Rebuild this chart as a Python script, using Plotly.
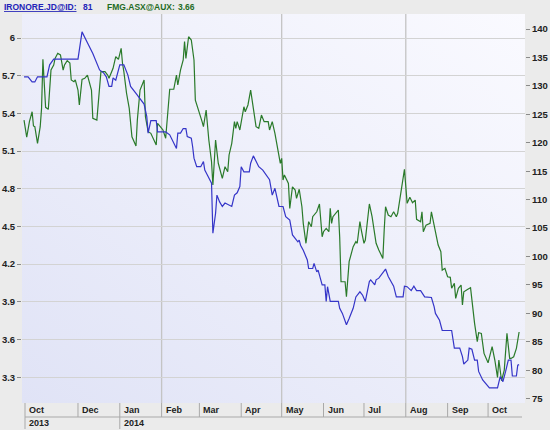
import base64
import plotly.graph_objects as go

# ---------------- data ----------------
iron_dates = [
    "2013-10-22", "2013-10-25", "2013-10-28", "2013-10-30", "2013-11-01", "2013-11-08", "2013-11-10",
    "2013-11-13", "2013-11-16", "2013-12-01", "2013-12-04", "2013-12-06", "2013-12-08", "2013-12-12",
    "2013-12-15", "2013-12-17", "2013-12-20", "2013-12-22", "2013-12-24", "2013-12-26", "2013-12-27",
    "2013-12-29", "2014-01-01", "2014-01-04", "2014-01-07", "2014-01-09", "2014-01-13", "2014-01-15",
    "2014-01-19", "2014-01-21", "2014-01-22", "2014-01-24", "2014-01-28", "2014-01-29", "2014-02-04",
    "2014-02-07", "2014-02-09", "2014-02-12", "2014-02-13", "2014-02-15", "2014-02-17", "2014-02-19",
    "2014-02-20", "2014-02-23", "2014-02-24", "2014-02-25", "2014-02-27", "2014-03-02", "2014-03-04",
    "2014-03-05", "2014-03-07", "2014-03-10", "2014-03-11", "2014-03-13", "2014-03-14", "2014-03-16",
    "2014-03-18", "2014-03-20", "2014-03-25", "2014-03-26", "2014-03-27", "2014-03-29", "2014-03-31",
    "2014-04-01", "2014-04-03", "2014-04-07", "2014-04-08", "2014-04-10", "2014-04-12", "2014-04-14",
    "2014-04-17", "2014-04-19", "2014-04-22", "2014-04-24", "2014-04-26", "2014-04-29", "2014-05-02",
    "2014-05-04", "2014-05-07", "2014-05-09", "2014-05-13", "2014-05-14", "2014-05-15", "2014-05-17",
    "2014-05-20", "2014-05-21", "2014-05-24", "2014-05-25", "2014-05-27", "2014-05-28", "2014-05-31",
    "2014-06-02", "2014-06-03", "2014-06-04", "2014-06-06", "2014-06-12", "2014-06-13", "2014-06-15",
    "2014-06-18", "2014-06-20", "2014-06-23", "2014-06-25", "2014-06-28", "2014-06-30", "2014-07-02",
    "2014-07-05", "2014-07-06", "2014-07-09", "2014-07-10", "2014-07-12", "2014-07-17", "2014-07-19",
    "2014-07-23", "2014-07-25", "2014-07-30", "2014-07-31", "2014-08-02", "2014-08-05", "2014-08-07",
    "2014-08-09", "2014-08-12", "2014-08-15", "2014-08-20", "2014-08-22", "2014-08-23", "2014-08-26",
    "2014-08-28", "2014-09-04", "2014-09-06", "2014-09-10", "2014-09-12", "2014-09-13", "2014-09-16",
    "2014-09-17", "2014-09-19", "2014-09-21", "2014-09-23", "2014-09-24", "2014-09-27", "2014-10-02",
    "2014-10-08", "2014-10-10", "2014-10-12", "2014-10-14", "2014-10-16", "2014-10-18", "2014-10-19",
    "2014-10-22", "2014-10-23", "2014-10-24",
]
iron_values = [
    131.6, 131.6, 130.7, 130.7, 131.6, 131.6, 133.7,
    134.7, 134.7, 134.7, 139.5, 138.4, 137.6, 135.7,
    134.0, 132.8, 132.3, 131.6, 129.9, 129.9, 131.4,
    131.0, 133.7, 133.7, 131.9, 129.9, 128.7, 128.1,
    126.8, 124.6, 121.7, 123.9, 123.9, 121.9, 121.9,
    121.4, 120.5, 119.0, 121.7, 121.7, 122.5, 122.5,
    121.1, 120.8, 119.3, 117.3, 115.8, 115.8, 116.7,
    115.2, 114.3, 112.9, 104.1, 107.6, 110.8, 109.6,
    108.8, 109.4, 108.8, 109.9, 110.8, 111.2, 112.3,
    115.8, 114.9, 114.9, 116.4, 117.7, 116.7, 115.8,
    115.2, 114.6, 113.5, 110.8, 112.0, 108.8, 108.8,
    107.0, 106.4, 103.8, 102.6, 102.9, 102.0, 101.1,
    99.4, 97.9, 97.9, 98.8, 97.3, 97.6, 95.0,
    95.0, 92.1, 94.7, 92.1, 92.1, 90.9, 90.0,
    88.0, 89.1, 90.9, 92.9, 93.8, 93.2, 92.1,
    95.6, 95.9, 95.0, 95.9, 96.2, 97.8, 96.5,
    94.8, 92.9, 92.9, 94.8, 94.7, 94.0, 94.8,
    94.0, 94.0, 92.9, 92.8, 91.2, 90.0, 88.8,
    87.0, 87.0, 83.9, 83.9, 82.4, 81.1, 81.8,
    83.9, 83.7, 81.8, 81.8, 79.8, 78.3, 76.9,
    76.9, 78.9, 78.0, 79.8, 81.8, 81.8, 79.0,
    79.0, 80.9, 81.0,
]

fmg_dates = [
    "2013-10-22", "2013-10-24", "2013-10-26", "2013-10-28", "2013-10-29", "2013-10-30", "2013-11-01",
    "2013-11-03", "2013-11-04", "2013-11-05", "2013-11-07", "2013-11-09", "2013-11-11", "2013-11-13",
    "2013-11-14", "2013-11-16", "2013-11-18", "2013-11-20", "2013-11-21", "2013-11-23", "2013-11-25",
    "2013-11-26", "2013-11-28", "2013-11-29", "2013-12-01", "2013-12-02", "2013-12-04", "2013-12-06",
    "2013-12-08", "2013-12-11", "2013-12-12", "2013-12-15", "2013-12-18", "2013-12-21", "2013-12-23",
    "2013-12-24", "2013-12-27", "2013-12-29", "2013-12-31", "2014-01-02", "2014-01-03", "2014-01-04",
    "2014-01-06", "2014-01-08", "2014-01-10", "2014-01-13", "2014-01-14", "2014-01-16", "2014-01-19",
    "2014-01-20", "2014-01-22", "2014-01-24", "2014-01-28", "2014-01-29", "2014-01-31", "2014-02-02",
    "2014-02-04", "2014-02-05", "2014-02-07", "2014-02-10", "2014-02-12", "2014-02-13", "2014-02-15",
    "2014-02-17", "2014-02-18", "2014-02-19", "2014-02-21", "2014-02-23", "2014-02-25", "2014-02-26",
    "2014-03-01", "2014-03-03", "2014-03-04", "2014-03-06", "2014-03-08", "2014-03-10", "2014-03-11",
    "2014-03-13", "2014-03-15", "2014-03-18", "2014-03-20", "2014-03-22", "2014-03-23", "2014-03-25",
    "2014-03-27", "2014-03-28", "2014-03-29", "2014-03-31", "2014-04-03", "2014-04-04", "2014-04-06",
    "2014-04-08", "2014-04-10", "2014-04-12", "2014-04-14", "2014-04-16", "2014-04-18", "2014-04-21",
    "2014-04-22", "2014-04-24", "2014-04-26", "2014-04-28", "2014-04-30", "2014-05-01", "2014-05-02",
    "2014-05-03", "2014-05-06", "2014-05-07", "2014-05-09", "2014-05-11", "2014-05-12", "2014-05-14",
    "2014-05-16", "2014-05-17", "2014-05-19", "2014-05-21", "2014-05-23", "2014-05-24", "2014-05-27",
    "2014-05-29", "2014-05-31", "2014-06-01", "2014-06-03", "2014-06-05", "2014-06-06", "2014-06-07",
    "2014-06-08", "2014-06-12", "2014-06-13", "2014-06-14", "2014-06-17", "2014-06-18", "2014-06-20",
    "2014-06-23", "2014-06-25", "2014-06-26", "2014-06-28", "2014-06-29", "2014-07-01", "2014-07-02",
    "2014-07-05", "2014-07-07", "2014-07-10", "2014-07-12", "2014-07-15", "2014-07-16", "2014-07-17",
    "2014-07-19", "2014-07-21", "2014-07-23", "2014-07-25", "2014-07-26", "2014-07-27", "2014-07-29",
    "2014-07-31", "2014-08-02", "2014-08-04", "2014-08-06", "2014-08-08", "2014-08-09", "2014-08-12",
    "2014-08-13", "2014-08-14", "2014-08-16", "2014-08-19", "2014-08-20", "2014-08-22", "2014-08-23",
    "2014-08-25", "2014-08-27", "2014-08-28", "2014-08-30", "2014-09-01", "2014-09-03", "2014-09-04",
    "2014-09-06", "2014-09-07", "2014-09-09", "2014-09-11", "2014-09-12", "2014-09-13", "2014-09-16",
    "2014-09-18", "2014-09-21", "2014-09-23", "2014-09-24", "2014-09-26", "2014-09-28", "2014-10-01",
    "2014-10-04", "2014-10-06", "2014-10-08", "2014-10-09", "2014-10-11", "2014-10-13", "2014-10-15",
    "2014-10-17", "2014-10-18", "2014-10-20", "2014-10-22", "2014-10-24",
]
fmg_values = [
    5.347, 5.21, 5.334, 5.413, 5.30, 5.294, 5.162,
    5.294, 5.44, 5.83, 5.448, 5.432, 5.745, 5.785,
    5.838, 5.878, 5.865, 5.745, 5.785, 5.82, 5.80,
    5.666, 5.652, 5.666, 5.586, 5.467, 5.671, 5.679,
    5.705, 5.586, 5.361, 5.347, 5.732, 5.732, 5.705,
    5.679, 5.759, 5.851, 5.83, 5.918, 5.799, 5.732,
    5.56, 5.44, 5.214, 5.14, 5.347, 5.586, 5.666,
    5.374, 5.254, 5.241, 5.148, 5.321, 5.294, 5.268,
    5.202, 5.334, 5.592, 5.592, 5.705, 5.626, 5.745,
    5.825, 5.971, 5.838, 6.01, 5.984, 5.825, 5.506,
    5.413, 5.334, 5.294, 5.427, 5.188, 5.015, 4.83,
    5.188, 5.003, 4.883, 4.976, 4.936, 5.069, 5.162,
    5.334, 5.281, 5.334, 5.268, 5.453, 5.413, 5.467,
    5.586, 5.44, 5.294, 5.281, 5.387, 5.334, 5.334,
    5.268, 5.334, 5.241, 5.108, 5.003, 5.042, 4.87,
    4.91, 4.843, 4.644, 4.816, 4.79, 4.724, 4.796,
    4.657, 4.525, 4.366, 4.538, 4.498, 4.578, 4.617,
    4.679, 4.418, 4.458, 4.485, 4.458, 4.644, 4.525,
    4.578, 4.631, 4.418, 4.06, 4.06, 3.941, 4.22,
    4.339, 4.379, 4.366, 4.538, 4.472, 4.366, 4.392,
    4.679, 4.578, 4.366, 4.312, 4.246, 4.472, 4.657,
    4.591, 4.578, 4.617, 4.578, 4.605, 4.671, 4.816,
    4.955, 4.684, 4.732, 4.689, 4.71, 4.557, 4.538,
    4.617, 4.458, 4.511, 4.525, 4.617, 4.511, 4.432,
    4.352, 4.299, 4.153, 4.167, 4.1, 4.095, 4.008,
    4.047, 3.928, 4.008, 4.034, 3.875, 3.98, 4.0,
    4.012, 3.729, 3.583, 3.654, 3.649, 3.49, 3.415,
    3.543, 3.437, 3.299, 3.437, 3.272, 3.357, 3.649,
    3.45, 3.45, 3.463, 3.53, 3.66,
]

left_ticks = [3.3, 3.6, 3.9, 4.2, 4.5, 4.8, 5.1, 5.4, 5.7, 6.0]
left_tick_labels = ["3.3", "3.6", "3.9", "4.2", "4.5", "4.8", "5.1", "5.4", "5.7", "6"]
right_ticks = [75, 80, 85, 90, 95, 100, 105, 110, 115, 120, 125, 130, 135, 140]

x_start = "2013-10-20 12:00"
x_end = "2014-10-28 09:00"
first_month_label = "Oct"
month_starts = ["2013-12-01", "2014-01-01", "2014-02-01", "2014-03-01", "2014-04-01", "2014-05-01",
                "2014-06-01", "2014-07-01", "2014-08-01", "2014-09-01", "2014-10-01"]
month_labels = ["Dec", "Jan", "Feb", "Mar", "Apr", "May", "Jun", "Jul", "Aug", "Sep", "Oct"]
first_year_label = "2013"
year_starts = ["2014-01-01"]
year_labels = ["2014"]
vgrid_dates = ["2014-02-01", "2014-05-01", "2014-08-01"]

iron_name = "IRONORE.JD@ID:"
fmg_name = "FMG.ASX@AUX:"

# ---------------- styling ----------------
W, H = 550, 430
ML, MR, MT, MB = 22, 25, 14, 27
PW, PH = W - ML - MR, H - MT - MB

BLUE = "#3535c8"
GREEN = "#2a7a2a"
FONT = "Liberation Sans"
TXT = "#222222"
GRIDC = "#d3d3d3"
SEPC = "#a9a9a9"


def px_x(p):
    return (p - ML) / PW


def px_y(p):
    return 1 - (p - MT) / PH


svg = ('<svg xmlns="http://www.w3.org/2000/svg" width="200" height="200" preserveAspectRatio="none">'
       '<defs><linearGradient id="g" x1="0" y1="1" x2="1" y2="0">'
       '<stop offset="0" stop-color="#e0e3f6"/><stop offset="1" stop-color="#fafaff"/>'
       '</linearGradient></defs><rect width="200" height="200" fill="url(#g)"/></svg>')
bg_src = "data:image/svg+xml;base64," + base64.b64encode(svg.encode()).decode()

fig = go.Figure()
fig.add_trace(go.Scatter(x=fmg_dates, y=fmg_values, mode="lines", name=fmg_name,
                         line=dict(color=GREEN, width=1.2), yaxis="y"))
fig.add_trace(go.Scatter(x=iron_dates, y=iron_values, mode="lines", name=iron_name,
                         line=dict(color=BLUE, width=1.2), yaxis="y2"))

shapes = []
# vertical grid lines
for d in vgrid_dates:
    shapes.append(dict(type="line", xref="x", yref="paper", x0=d, x1=d, y0=0, y1=1,
                       line=dict(color="#c4c4c4", width=1.3), layer="below"))

# bottom month / year rows
row1_bot = px_y(417)
row2_bot = px_y(429)
shapes.append(dict(type="line", xref="paper", yref="paper", x0=px_x(25), x1=px_x(522),
                   y0=row1_bot, y1=row1_bot, line=dict(color=SEPC, width=1)))
shapes.append(dict(type="line", xref="paper", yref="paper", x0=px_x(25), x1=px_x(25),
                   y0=0, y1=row2_bot, line=dict(color=SEPC, width=1)))
for d in month_starts:
    shapes.append(dict(type="line", xref="x", yref="paper", x0=d, x1=d, y0=0, y1=row1_bot,
                       line=dict(color=SEPC, width=1)))
for d in year_starts:
    shapes.append(dict(type="line", xref="x", yref="paper", x0=d, x1=d, y0=row1_bot, y1=row2_bot,
                       line=dict(color=SEPC, width=1)))

annotations = []
lab_font = dict(family=FONT, size=9, color=TXT, weight="bold")
annotations.append(dict(text=first_month_label, xref="paper", yref="paper", x=px_x(27), y=px_y(410),
                        xanchor="left", yanchor="middle", showarrow=False, font=lab_font))
for d, lab in zip(month_starts, month_labels):
    annotations.append(dict(text=lab, xref="x", yref="paper", x=d, y=px_y(410), xshift=2,
                            xanchor="left", yanchor="middle", showarrow=False, font=lab_font))
annotations.append(dict(text=first_year_label, xref="paper", yref="paper", x=px_x(27), y=px_y(423),
                        xanchor="left", yanchor="middle", showarrow=False, font=lab_font))
for d, lab in zip(year_starts, year_labels):
    annotations.append(dict(text=lab, xref="x", yref="paper", x=d, y=px_y(423), xshift=2,
                            xanchor="left", yanchor="middle", showarrow=False, font=lab_font))

# header
hdr_font_b = dict(family=FONT, size=8.5, color="#2323b8", weight="bold")
hdr_font_g = dict(family=FONT, size=8.5, color="#1f6b1f", weight="bold")
annotations += [
    dict(text="<span style='text-decoration:underline'>" + iron_name + "</span>", xref="paper", yref="paper",
         x=px_x(2), y=px_y(7), xanchor="left", yanchor="middle", showarrow=False, font=hdr_font_b),
    dict(text=f"{iron_values[-1]:.0f}", xref="paper", yref="paper",
         x=px_x(81), y=px_y(7), xanchor="left", yanchor="middle", showarrow=False, font=hdr_font_b),
    dict(text=fmg_name, xref="paper", yref="paper",
         x=px_x(105), y=px_y(7), xanchor="left", yanchor="middle", showarrow=False, font=hdr_font_g),
    dict(text=f"{fmg_values[-1]:.2f}", xref="paper", yref="paper",
         x=px_x(176), y=px_y(7), xanchor="left", yanchor="middle", showarrow=False, font=hdr_font_g),
]

tick_font = dict(family=FONT, size=9.5, color=TXT, weight="bold")
fig.update_layout(
    width=W, height=H,
    margin=dict(l=ML, r=MR, t=MT, b=MB, pad=0, autoexpand=False),
    paper_bgcolor="#ebebeb",
    plot_bgcolor="#eef0fa",
    showlegend=False,
    images=[dict(source=bg_src, xref="paper", yref="paper", x=0, y=1, sizex=1, sizey=1,
                 sizing="stretch", layer="below", xanchor="left", yanchor="top")],
    xaxis=dict(type="date", range=[x_start, x_end], showticklabels=False, showgrid=False,
               zeroline=False, ticks="", showline=False, automargin=False),
    yaxis=dict(range=[3.095, 6.191], tickvals=left_ticks, ticktext=left_tick_labels,
               ticks="outside", ticklen=4, tickcolor="#8a8a8a", tickwidth=1,
               showgrid=True, gridcolor=GRIDC, gridwidth=1.3, zeroline=False,
               tickfont=tick_font, showline=False, automargin=False),
    yaxis2=dict(range=[74.25, 142.64], tickvals=right_ticks, overlaying="y", side="right",
                ticks="outside", ticklen=4, tickcolor="#8a8a8a", tickwidth=1,
                showgrid=False, zeroline=False, tickfont=tick_font, showline=False, automargin=False),
    shapes=shapes,
    annotations=annotations,
)

fig.write_html("out.html", config={"displayModeBar": False},
               post_script="document.body.style.margin='0';document.body.style.overflow='hidden';")
